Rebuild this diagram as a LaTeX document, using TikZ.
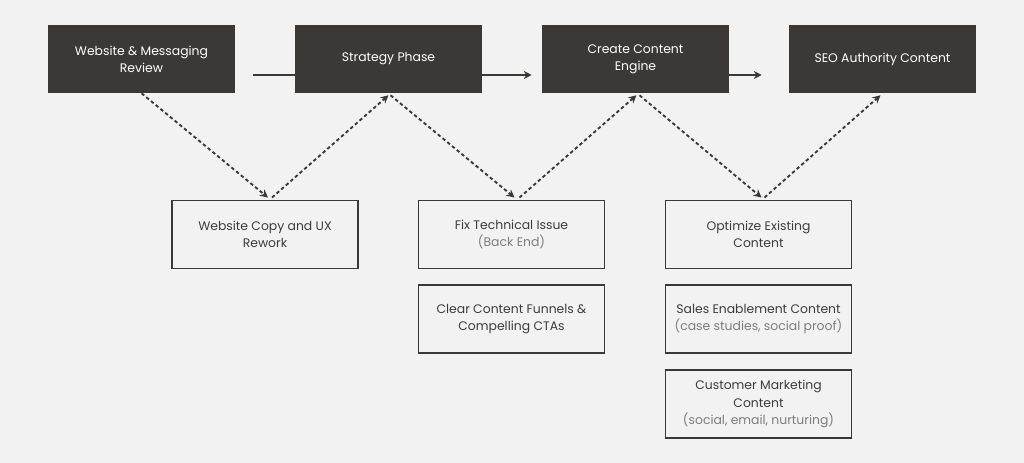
\documentclass[tikz,border=0pt]{standalone}
\usepackage{fontspec}
\setmainfont{Poppins}
\usetikzlibrary{arrows.meta}
\definecolor{pagegray}{RGB}{242,242,242}
\definecolor{boxdark}{RGB}{58,57,55}
\definecolor{txtdark}{RGB}{60,60,60}
\definecolor{txtsoft}{RGB}{125,125,125}

\tikzset{
  phase/.style={fill=boxdark, text=white, align=center, inner sep=0pt,
    minimum width=140.25pt, minimum height=51pt,
    font=\fontsize{9.3}{12.9}\selectfont},
  task/.style={draw=boxdark, line width=1.4pt, fill=pagegray, text=txtdark,
    align=center, inner sep=0pt, minimum width=139.5pt, minimum height=51pt,
    font=\fontsize{9.3}{12.9}\selectfont},
  flow/.style={line width=1.4pt, boxdark, -{Stealth[length=6pt,width=6pt]}},
  link/.style={line width=1.4pt, boxdark, dash pattern=on 2.6pt off 2pt,
    -{Stealth[length=6pt,width=6pt]}},
  soft/.style={text=txtsoft}
}

\begin{document}
\begin{tikzpicture}[x=0.75pt, y=-0.75pt]
  % background and page size
  \fill[pagegray] (0,0) rectangle (1024,463);
  \useasboundingbox (0,0) rectangle (1024,463);

  % --- top row: phases ---
  \node[phase] (review)   at (141.5,59) {Website \& Messaging\\Review};
  \node[phase] (strategy) at (388.5,59) {Strategy Phase};
  \node[phase] (engine)   at (635.5,59) {Create Content\\Engine};
  \node[phase] (seo)      at (882.5,59) {SEO Authority Content};

  % --- lower row: tasks ---
  \node[task] (rework)  at (265,234.5)   {Website Copy and UX\\Rework};
  \node[task] (techfix) at (511.5,234.5) {Fix Technical Issue\\{\color{txtsoft}(Back End)}};
  \node[task] (funnels) at (511.5,319)   {Clear Content Funnels \&\\Compelling CTAs};
  \node[task] (optim)   at (758.5,234.5) {Optimize Existing\\Content};
  \node[task] (sales)   at (758.5,319)   {Sales Enablement Content\\{\color{txtsoft}(case studies, social proof)}};
  \node[task] (custmk)  at (758.5,404)   {Customer Marketing\\Content\\{\color{txtsoft}(social, email, nurturing)}};

  % --- solid arrows between phases ---
  \draw[line width=1.4pt, boxdark] ([shift={(18,16)}]review.east) -- ([shift={(0,16)}]strategy.west);
  \draw[flow] ([shift={(0,16)}]strategy.east) -- ([shift={(-10,16)}]engine.west);
  \draw[flow] ([shift={(0,16)}]engine.east) -- ([shift={(-27,16)}]seo.west);

  % --- dashed zig-zag ---
  \draw[link] (review.south) -- ([shift={(3,-2)}]rework.north);
  \draw[link] ([shift={(7,-2)}]rework.north) -- ([shift={(0,2)}]strategy.south);
  \draw[link] ([shift={(2,2)}]strategy.south) -- ([shift={(3,-2)}]techfix.north);
  \draw[link] ([shift={(8,-2)}]techfix.north) -- ([shift={(1,2)}]engine.south);
  \draw[link] ([shift={(4,2)}]engine.south) -- ([shift={(3,-2)}]optim.north);
  \draw[link] ([shift={(6,-2)}]optim.north) -- ([shift={(-2,2)}]seo.south);
\end{tikzpicture}
\end{document}
